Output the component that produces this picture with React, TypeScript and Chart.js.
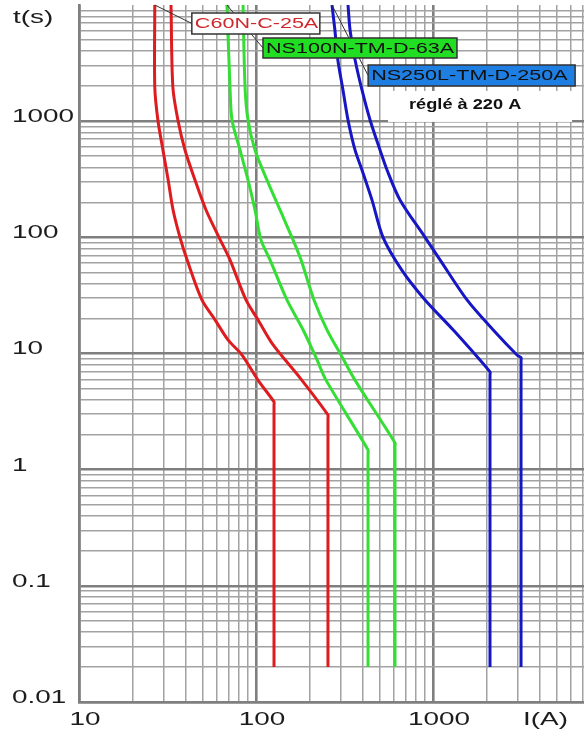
import React, { useEffect, useRef } from 'react';
import { Chart, registerables } from 'chart.js';

Chart.register(...registerables);

// ---- Data (current I in A, time t in s) ----
const c60nMinI = [26.8, 26.8, 27.9, 29.8, 31.9, 34.0, 37.2, 40.8, 49.5, 58.7, 69.5, 83.4, 102.6, 126.4, 126.4, 126.4];
const c60nMinT = [10000, 1968, 1023, 565, 312, 172, 100, 64, 28.9, 19.5, 13.1, 9.7, 5.9, 3.83, 3.6, 0.02];

const c60nMaxI = [33.1, 33.9, 36.2, 39.7, 45.2, 52.2, 61.8, 71.3, 87.8, 102.6, 124.7, 177.3, 255, 255, 255];
const c60nMaxT = [10000, 1968, 1023, 565, 312, 172, 100, 64, 28.9, 19.5, 11.9, 6.17, 2.96, 2.78, 0.02];

const ns100MinI = [68.5, 71.3, 73.2, 81.2, 90.1, 98.7, 106.7, 120, 149.6, 184.4, 221.3, 248.6, 429.5, 429.5, 429.5];
const ns100MinT = [10000, 1968, 1023, 565, 312, 172, 95, 64, 28.9, 16, 8.8, 5.9, 1.48, 1.39, 0.02];

const ns100MaxI = [84.5, 86.7, 90.1, 98.7, 115.3, 136.7, 161.9, 179.6, 212.7, 251.8, 302.2, 362.5, 610, 610, 610];
const ns100MaxT = [10000, 1968, 1023, 565, 312, 172, 95, 64, 28.9, 16, 9.7, 5.9, 1.70, 1.60, 0.02];

const ns250MinI = [268.7, 279, 290, 310, 331, 362.5, 397, 452, 522, 668, 902, 1298, 2099, 2099, 2099];
const ns250MinT = [10000, 6095, 3365, 1857, 1023, 565, 380, 210, 100, 52, 28.9, 16, 6.95, 6.55, 0.02];

const ns250MaxI = [331, 340, 363, 397, 441, 502, 550, 651, 902, 1096, 1557, 2183, 2983, 3143, 3143, 3143];
const ns250MaxT = [10000, 6095, 3365, 1857, 1023, 565, 380, 210, 100, 64, 28.9, 16, 9.7, 9.2, 8.7, 0.02];

const xTickValues = [10, 100, 1000];
const xTickLabels = ['10', '100', '1000'];
const yTickValues = [1000, 100, 10, 1, 0.1, 0.01];
const yTickLabels = ['1000', '100', '10', '1', '0.1', '0.01'];
const xAxisTitle = 'I(A)';
const yAxisTitle = 't(s)';

const labelTexts = ['C60N-C-25A', 'NS100N-TM-D-63A', 'NS250L-TM-D-250A'];
const noteText = 'réglé à 220 A';

const X_MIN = 10;
const X_MAX = 7130;
const Y_MIN = 0.01;
const Y_MAX = 10000;

const RED = 'rgb(222,28,32)';
const GREEN = 'rgb(52,222,52)';
const BLUE = 'rgb(22,22,196)';

function gridValues(min: number, max: number): number[] {
  const out: number[] = [];
  for (let e = -3; e <= 5; e++) {
    for (let m = 1; m <= 9; m++) {
      const v = parseFloat((m * Math.pow(10, e)).toPrecision(6));
      if (v >= min - 1e-12 && v < max - 1e-9) out.push(v);
    }
  }
  return out;
}

function isDecade(v: number): boolean {
  const l = Math.log10(v);
  return Math.abs(l - Math.round(l)) < 1e-6;
}

function pts(xs: number[], ys: number[]) {
  return xs.map((x, i) => ({ x, y: ys[i] }));
}

function stretchText(ctx: CanvasRenderingContext2D, text: string, x: number, y: number, sx: number, align: CanvasTextAlign) {
  ctx.save();
  ctx.translate(x, y);
  ctx.scale(sx, 1);
  ctx.textAlign = align;
  ctx.textBaseline = 'middle';
  ctx.fillText(text, 0, 0);
  ctx.restore();
}

const overlayPlugin = {
  id: 'overlay',
  afterDatasetsDraw(chart: any) {
    const ctx: CanvasRenderingContext2D = chart.ctx;
    const xs = chart.scales.x;
    const ys = chart.scales.y;
    const px = (v: number) => xs.getPixelForValue(v);
    const py = (v: number) => ys.getPixelForValue(v);

    const boxes = [
      { i: 43.4, t: 8534, w: 128, h: 21, fill: '#ffffff', text: 'rgb(205,40,45)', from: [c60nMinI[0], c60nMinT[0]] },
      { i: 109.5, t: 5200, w: 194, h: 20, fill: 'rgb(34,222,34)', text: '#111', from: [ns100MinI[0], ns100MinT[0]] },
      { i: 430, t: 3045, w: 207, h: 21, fill: 'rgb(30,126,226)', text: '#111', from: [ns250MinI[0], ns250MinT[0]] },
    ];

    ctx.save();
    // leader lines
    ctx.strokeStyle = '#333';
    ctx.lineWidth = 1;
    boxes.forEach((b) => {
      ctx.beginPath();
      ctx.moveTo(px(b.from[0]), py(b.from[1]));
      ctx.lineTo(px(b.i), py(b.t) + b.h / 2);
      ctx.stroke();
    });

    // white note area
    const nx = px(557);
    const ny = py(1820);
    ctx.fillStyle = '#ffffff';
    ctx.fillRect(nx, ny, 184, 31);

    // label boxes
    boxes.forEach((b, k) => {
      const bx = px(b.i);
      const by = py(b.t);
      ctx.fillStyle = b.fill;
      ctx.fillRect(bx, by, b.w, b.h);
      ctx.strokeStyle = '#333';
      ctx.lineWidth = 1.5;
      ctx.strokeRect(bx, by, b.w, b.h);
      ctx.fillStyle = b.text;
      ctx.font = '14px "Liberation Sans", Arial, sans-serif';
      stretchText(ctx, labelTexts[k], bx + 3, by + b.h / 2 + 1, 1.54, 'left');
    });

    // note text
    ctx.fillStyle = '#111';
    ctx.font = 'bold 14px "Liberation Sans", Arial, sans-serif';
    stretchText(ctx, noteText, px(1000) - 24, py(1378), 1.3, 'left');
    ctx.restore();
  },
  afterDraw(chart: any) {
    const ctx: CanvasRenderingContext2D = chart.ctx;
    const xs = chart.scales.x;
    const ys = chart.scales.y;
    const area = chart.chartArea;
    ctx.save();
    ctx.fillStyle = '#1c1c1c';
    ctx.font = '18px "Liberation Sans", Arial, sans-serif';
    yTickValues.forEach((v, i) => {
      stretchText(ctx, yTickLabels[i], 12, ys.getPixelForValue(v) - 4, 1.55, 'left');
    });
    xTickValues.forEach((v, i) => {
      stretchText(ctx, xTickLabels[i], xs.getPixelForValue(v) + 6, area.bottom + 18, 1.55, 'center');
    });
    stretchText(ctx, yAxisTitle, 13, area.top + 13, 1.55, 'left');
    stretchText(ctx, xAxisTitle, area.right - 61, area.bottom + 18, 1.55, 'left');
    ctx.restore();
  },
};

export default function App() {
  const canvasRef = useRef<HTMLCanvasElement | null>(null);

  useEffect(() => {
    document.body.style.margin = '0';
    const canvas = canvasRef.current;
    if (!canvas) return;

    const mkSet = (label: string, xs: number[], ys: number[], color: string) => ({
      label,
      data: pts(xs, ys),
      borderColor: color,
      backgroundColor: color,
      borderWidth: 3,
      pointRadius: 0,
      tension: 0.3,
      fill: false,
    });

    const gridOpts = {
      drawTicks: false,
      tickLength: 0,
      color: (c: any) => (c.tick && isDecade(c.tick.value) ? '#7f7f7f' : '#a2a2a2'),
      lineWidth: (c: any) => (c.tick && isDecade(c.tick.value) ? 2.6 : 1.5),
    };

    const chart = new Chart(canvas, {
      type: 'line',
      data: {
        datasets: [
          mkSet('C60N-C-25A min', c60nMinI, c60nMinT, RED),
          mkSet('C60N-C-25A max', c60nMaxI, c60nMaxT, RED),
          mkSet('NS100N-TM-D-63A min', ns100MinI, ns100MinT, GREEN),
          mkSet('NS100N-TM-D-63A max', ns100MaxI, ns100MaxT, GREEN),
          mkSet('NS250L-TM-D-250A min', ns250MinI, ns250MinT, BLUE),
          mkSet('NS250L-TM-D-250A max', ns250MaxI, ns250MaxT, BLUE),
        ],
      },
      options: {
        responsive: false,
        animation: false,
        events: [],
        layout: { padding: { top: 5, left: 0, right: 0, bottom: 0 } },
        plugins: { legend: { display: false }, tooltip: { enabled: false } },
        scales: {
          x: {
            type: 'logarithmic',
            min: X_MIN,
            max: X_MAX,
            grid: gridOpts as any,
            border: { display: true, color: '#7f7f7f', width: 2.6 },
            ticks: { display: false, autoSkip: false },
            afterBuildTicks: (s: any) => {
              s.ticks = gridValues(X_MIN, X_MAX).map((v) => ({ value: v }));
            },
            afterFit: (s: any) => {
              s.height = 40;
            },
          },
          y: {
            type: 'logarithmic',
            min: Y_MIN,
            max: Y_MAX,
            grid: gridOpts as any,
            border: { display: true, color: '#7f7f7f', width: 2.6 },
            ticks: { display: false, autoSkip: false },
            afterBuildTicks: (s: any) => {
              s.ticks = gridValues(Y_MIN, Y_MAX).map((v) => ({ value: v }));
            },
            afterFit: (s: any) => {
              s.width = 79;
            },
          },
        },
      },
      plugins: [overlayPlugin],
    } as any);

    return () => chart.destroy();
  }, []);

  return (
    <div style={{ width: 584, height: 742, background: '#fff' }}>
      <canvas ref={canvasRef} width={584} height={742} style={{ display: 'block' }} />
    </div>
  );
}
